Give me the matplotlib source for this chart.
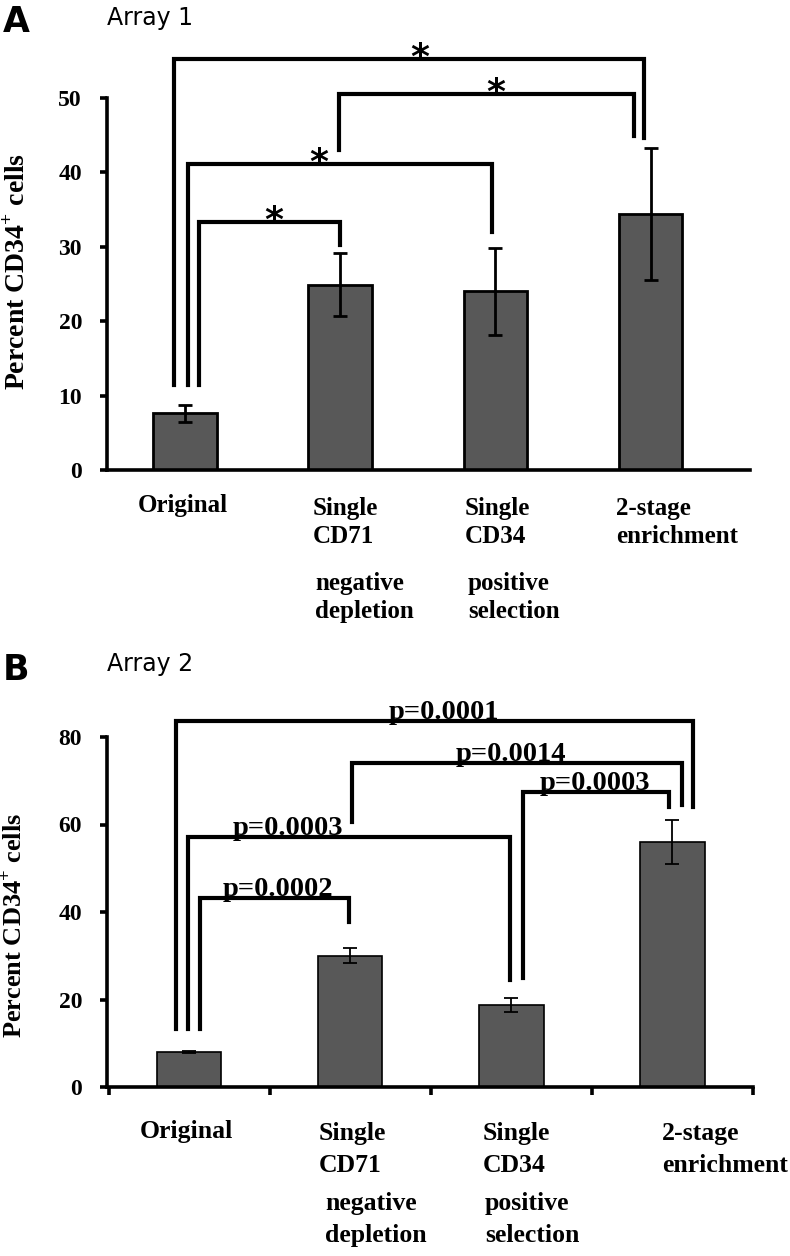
import matplotlib
matplotlib.use("Agg")
import matplotlib.pyplot as plt

plt.rcParams["mathtext.fontset"] = "custom"
plt.rcParams["mathtext.rm"] = "Liberation Serif:bold"
plt.rcParams["mathtext.bf"] = "Liberation Serif:bold"

# data
groups = ["Original", "Single CD71", "Single CD34", "2-stage enrichment"]
array1_mean = [7.6, 24.9, 24.0, 34.4]
array1_err = [1.2, 4.2, 5.9, 8.9]
array2_mean = [8.0, 30.0, 18.7, 56.0]
array2_err = [0.15, 1.7, 1.6, 5.1]

# brackets: (left x, right x, top, left foot, right foot, label, label x)
brackets_a = [
    (-0.07, 2.96, 55.2, 11.4, 44.6, "*", 1.51),
    (0.99, 2.89, 50.5, 43.0, 44.9, "*", 2.0),
    (0.02, 1.98, 41.1, 11.4, 32.0, "*", 0.86),
    (0.09, 1.00, 33.3, 11.4, 30.2, "*", 0.57),
]
brackets_b = [
    (-0.08, 3.13, 83.7, 13.3, 64.0, "p=0.0001", 1.58),
    (1.01, 3.06, 74.1, 60.6, 64.5, "p=0.0014", 2.0),
    (2.07, 2.98, 67.4, 24.9, 64.0, "p=0.0003", 2.52),
    (-0.01, 1.99, 57.1, 13.3, 24.5, "p=0.0003", 0.61),
    (0.07, 0.99, 43.2, 13.3, 37.7, "p=0.0002", 0.55),
]

W, H = 790, 1256
fig = plt.figure(figsize=(W / 100, H / 100), dpi=100)


def rect(x0, y0, x1, y1):
    return [x0 / W, 1 - y1 / H, (x1 - x0) / W, (y1 - y0) / H]


def ftext(x, y, s, **kw):
    fig.text(x / W, 1 - y / H, s, **kw)


serif = "Liberation Serif"
ylab = r"Percent CD34$^{\mathbf{+}}$ cells"


def setup(ax, ymax, step, xlim):
    ax.set_xlim(*xlim)
    ax.set_ylim(0, ymax)
    ax.set_yticks(range(0, ymax + 1, step))
    for s in ["top", "right"]:
        ax.spines[s].set_visible(False)
    for s in ["left", "bottom"]:
        ax.spines[s].set_linewidth(2.6)
    ax.tick_params(axis="y", direction="out", length=5, width=2.6, pad=13)
    for lab in ax.get_yticklabels():
        lab.set_fontfamily(serif)
        lab.set_fontweight("bold")
        lab.set_fontsize(17)


def draw_brackets(ax, brackets, star):
    for x1, x2, top, f1, f2, lab, lx in brackets:
        ax.plot([x1, x1, x2, x2], [f1, top, top, f2], color="black", lw=3,
                solid_joinstyle="miter", clip_on=False)
        if star:
            ax.annotate(lab, (lx, top), xytext=(0, -6), textcoords="offset points",
                        ha="center", va="baseline", fontsize=26, fontweight="bold",
                        annotation_clip=False)
        else:
            ax.annotate(lab, (lx, top), xytext=(0, 1.5), textcoords="offset points",
                        ha="center", va="baseline", fontsize=20.5, fontweight="bold",
                        family=serif, annotation_clip=False)


# ---- panel A
ax1 = fig.add_axes(rect(107, 98, 750, 470))
x = range(len(groups))
ax1.bar(x, array1_mean, width=0.41, color="#585858", edgecolor="black", lw=2,
        yerr=array1_err, error_kw=dict(ecolor="black", elinewidth=2, capsize=5, capthick=2))
setup(ax1, 50, 10, (-0.503, 3.64))
ax1.set_xticks([])
draw_brackets(ax1, brackets_a, True)

# ---- panel B
ax2 = fig.add_axes(rect(107, 737, 753, 1087))
ax2.bar(x, array2_mean, width=0.40, color="#585858", edgecolor="black", lw=1.2,
        yerr=array2_err, error_kw=dict(ecolor="black", elinewidth=1.3, capsize=5, capthick=1.3))
setup(ax2, 80, 20, (-0.51, 3.50))
ax2.set_xticks([-0.5, 0.5, 1.5, 2.5, 3.5])
ax2.set_xticklabels([])
ax2.tick_params(axis="x", direction="out", length=6, width=2.6)
draw_brackets(ax2, brackets_b, False)

# panel letters and titles
ftext(3, 32, "A", fontsize=25, fontweight="bold", family="DejaVu Sans")
ftext(107, 25, "Array 1", fontsize=17, family="DejaVu Sans")
ftext(3, 680, "B", fontsize=25, fontweight="bold", family="DejaVu Sans")
ftext(107, 671, "Array 2", fontsize=17, family="DejaVu Sans")

# y labels
ftext(18, 272, ylab, rotation=90, ha="center", va="center", fontsize=20,
      family=serif, fontweight="bold")
ftext(14, 925, ylab, rotation=90, ha="center", va="center", fontsize=19,
      family=serif, fontweight="bold")

# category labels
cat_kw = dict(family=serif, fontweight="bold", va="baseline")
fsA, fsB = 18, 18.5
ftext(183, 512, "Original", ha="center", fontsize=fsA, **cat_kw)
ftext(313, 515, "Single", fontsize=fsA, **cat_kw)
ftext(313, 543, "CD71", fontsize=fsA, **cat_kw)
ftext(315, 590, "negative", fontsize=fsA, **cat_kw)
ftext(315, 618, "depletion", fontsize=fsA, **cat_kw)
ftext(465, 515, "Single", fontsize=fsA, **cat_kw)
ftext(465, 543, "CD34", fontsize=fsA, **cat_kw)
ftext(468, 590, "positive", fontsize=fsA, **cat_kw)
ftext(468, 618, "selection", fontsize=fsA, **cat_kw)
ftext(616, 515, "2-stage", fontsize=fsA, **cat_kw)
ftext(616, 543, "enrichment", fontsize=fsA, **cat_kw)

ftext(186, 1138, "Original", ha="center", fontsize=fsB, **cat_kw)
ftext(319, 1140, "Single", fontsize=fsB, **cat_kw)
ftext(319, 1172, "CD71", fontsize=fsB, **cat_kw)
ftext(325, 1210, "negative", fontsize=fsB, **cat_kw)
ftext(325, 1242, "depletion", fontsize=fsB, **cat_kw)
ftext(483, 1140, "Single", fontsize=fsB, **cat_kw)
ftext(483, 1172, "CD34", fontsize=fsB, **cat_kw)
ftext(485, 1210, "positive", fontsize=fsB, **cat_kw)
ftext(485, 1242, "selection", fontsize=fsB, **cat_kw)
ftext(662, 1140, "2-stage", fontsize=fsB, **cat_kw)
ftext(662, 1172, "enrichment", fontsize=fsB, **cat_kw)

plt.savefig("out.png", dpi=100)
